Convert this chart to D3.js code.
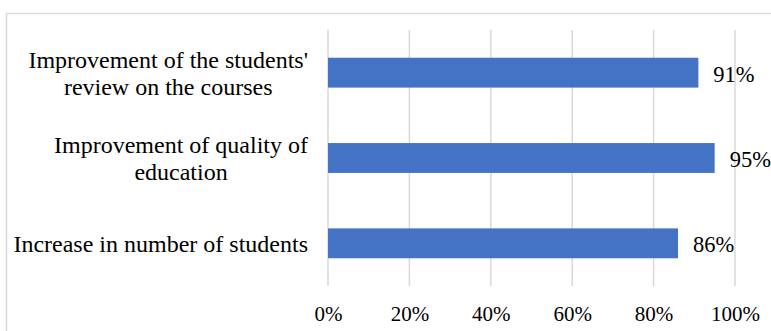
<!DOCTYPE html>
<html>
<head>
<meta charset="utf-8">
<script src="https://cdn.jsdelivr.net/npm/d3@7"></script>
<style>
  html, body { margin: 0; padding: 0; background: #ffffff; }
  svg { display: block; }
  text { font-family: "Liberation Serif", "Times New Roman", serif; fill: #000; }
</style>
</head>
<body>
<svg id="chart" width="771" height="331"></svg>
<script>
// Survey outcomes (share of respondents)
const categories = [
  ["Improvement of the students'", "review on the courses"],
  ["Improvement of quality of", "education"],
  ["Increase in number of students"]
];
const values = [0.91, 0.95, 0.86];
const tickValues = [0, 0.2, 0.4, 0.6, 0.8, 1.0];

const svg = d3.select("#chart");
const catFont = 24;
const axisFont = 21;
const valueFont = 22.5;

// Chart area frame
svg.append("rect")
  .attr("x", 6.5).attr("y", 13.5)
  .attr("width", 800).attr("height", 400)
  .attr("fill", "none")
  .attr("stroke", "#d9d9d9")
  .attr("stroke-width", 1.5);

const plot = { left: 328, right: 735, top: 30, bottom: 286 };

const x = d3.scaleLinear().domain([0, 1]).range([plot.left, plot.right]);
const y = d3.scaleBand()
  .domain(d3.range(categories.length))
  .range([plot.top, plot.bottom])
  .paddingInner(0.65)
  .paddingOuter(0.325);

// Vertical gridlines
svg.append("g")
  .selectAll("line")
  .data(tickValues)
  .join("line")
  .attr("x1", d => x(d)).attr("x2", d => x(d))
  .attr("y1", plot.top).attr("y2", plot.bottom)
  .attr("stroke", "#d9d9d9")
  .attr("stroke-width", 1.5);

// X axis tick labels
const xAxis = d3.axisBottom(x)
  .tickValues(tickValues)
  .tickFormat(d3.format(".0%"))
  .tickSize(0)
  .tickPadding(0);
const xg = svg.append("g")
  .attr("transform", `translate(0,${plot.bottom})`)
  .call(xAxis);
xg.select(".domain").remove();
xg.selectAll("text")
  .attr("font-size", axisFont)
  .attr("font-family", "Liberation Serif, Times New Roman, serif")
  .attr("fill", "#000")
  .attr("dy", null)
  .attr("y", 35);

// Bars
svg.append("g")
  .selectAll("rect")
  .data(values)
  .join("rect")
  .attr("x", x(0))
  .attr("y", (d, i) => y(i))
  .attr("width", d => x(d) - x(0))
  .attr("height", y.bandwidth())
  .attr("fill", "#4472c4");

// Value labels
svg.append("g")
  .selectAll("text")
  .data(values)
  .join("text")
  .attr("x", d => x(d) + 15)
  .attr("y", (d, i) => y(i) + y.bandwidth() / 2)
  .attr("dy", "0.4em")
  .attr("font-size", valueFont)
  .text(d => d3.format(".0%")(d));

// Category labels: centred multi-line blocks, right edge near the axis
const lineH = 27;
const catG = svg.append("g");
categories.forEach((lines, i) => {
  const cy = y(i) + y.bandwidth() / 2;
  const t = catG.append("text")
    .attr("font-size", catFont)
    .attr("text-anchor", "middle");
  lines.forEach((ln, j) => {
    t.append("tspan")
      .attr("x", 0)
      .attr("y", cy + (j - (lines.length - 1) / 2) * lineH)
      .attr("dy", "0.35em")
      .text(ln);
  });
  const widest = d3.max(t.selectAll("tspan").nodes(), n => n.getComputedTextLength());
  t.attr("transform", `translate(${308 - widest / 2},0)`);
});
</script>
</body>
</html>
